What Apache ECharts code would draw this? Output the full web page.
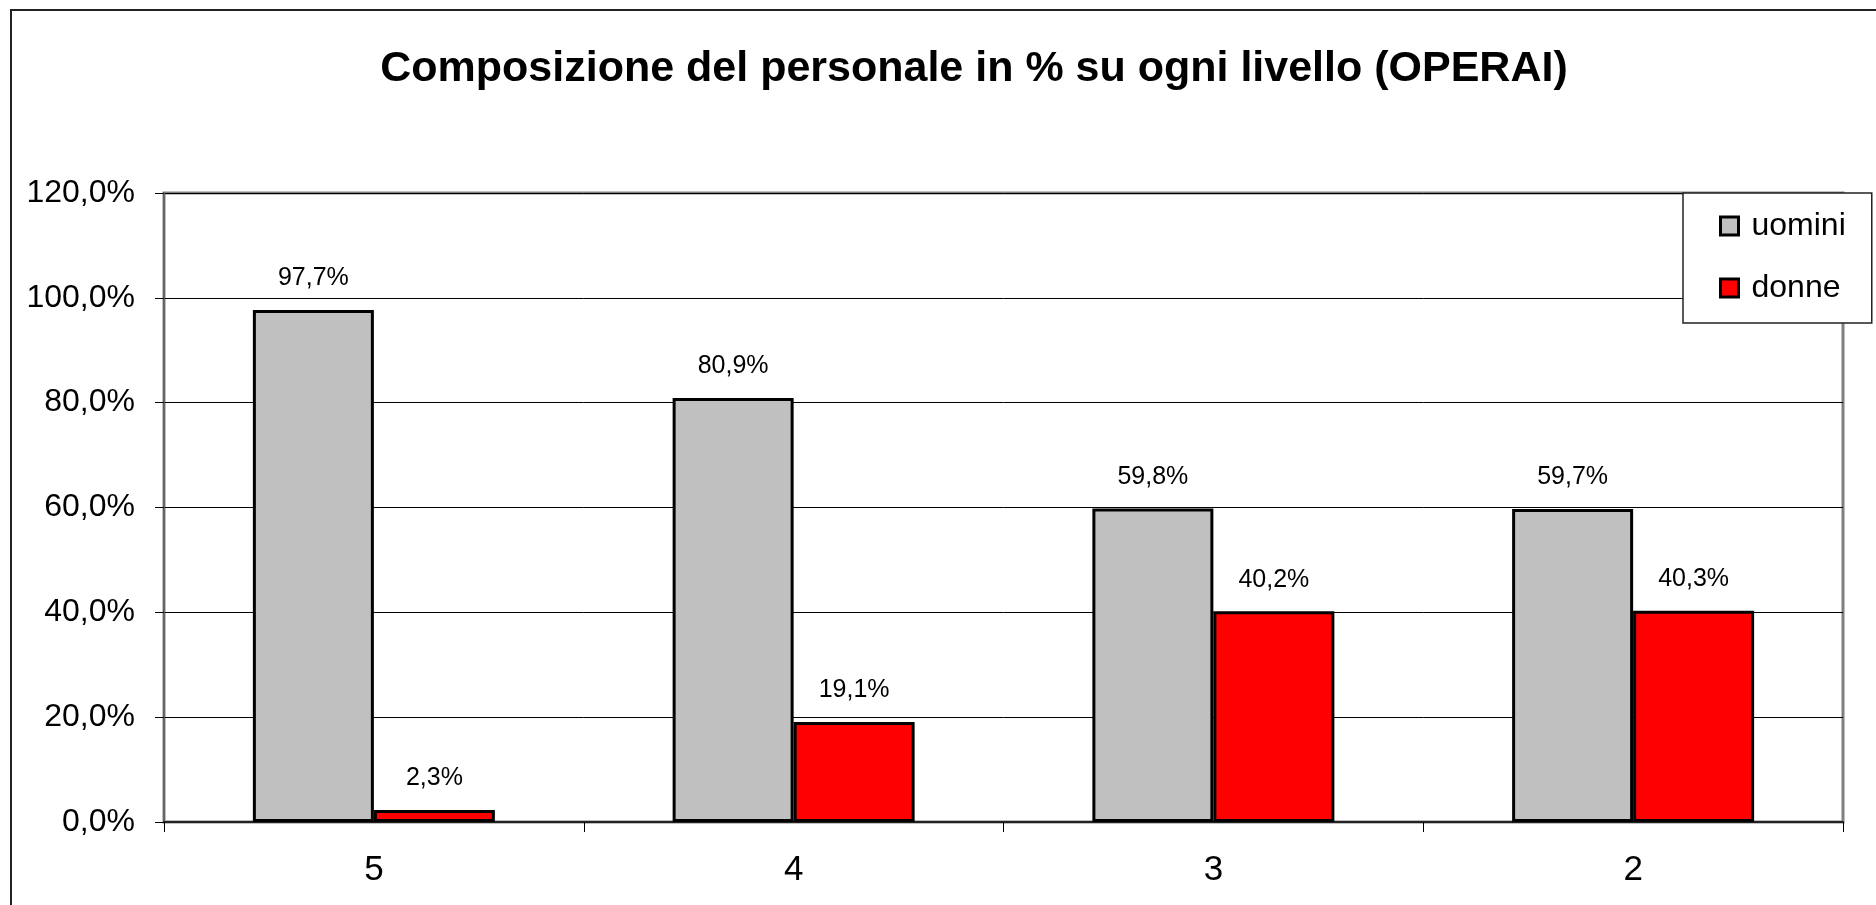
<!DOCTYPE html>
<html>
<head>
<meta charset="utf-8">
<script src="https://cdn.jsdelivr.net/npm/echarts@6/dist/echarts.min.js"></script>
<style>
  html, body { margin: 0; padding: 0; background: #fff; }
  #chart { width: 1876px; height: 905px; }
</style>
</head>
<body>
<div id="chart"></div>
<script>
// livelli
const categories = ["5", "4", "3", "2"];
// percentuali per livello
const uomini = [97.7, 80.9, 59.8, 59.7];
const donne = [2.3, 19.1, 40.2, 40.3];
const yTicks = { min: 0, max: 120, interval: 20 };

const FONT = "'Liberation Sans', Arial, sans-serif";
const pct = (v) => v.toFixed(1).replace(".", ",") + "%";

const chart = echarts.init(document.getElementById("chart"));

const labelStyle = {
  show: true,
  position: "top",
  distance: 19,
  fontFamily: FONT,
  fontSize: 25,
  color: "#000",
  formatter: (p) => pct(p.value),
};

const options = {
  backgroundColor: "#fff",
  animation: false,
  title: {
    text: "Composizione del personale in % su ogni livello (OPERAI)",
    left: 969,
    top: 43,
    textAlign: "center",
    textStyle: { fontFamily: FONT, fontSize: 43, fontWeight: "bold", color: "#000" },
  },
  // cornice esterna
  graphic: [
    {
      type: "rect",
      shape: { x: 11, y: 10, width: 2000, height: 2000 },
      style: { fill: null, stroke: "#222", lineWidth: 2 },
      silent: true,
      z: -1,
    },
  ],
  legend: {
    orient: "vertical",
    left: 1683,
    top: 193,
    padding: [17, 26, 19, 36],
    itemGap: 30,
    itemWidth: 18,
    itemHeight: 18,
    icon: "rect",
    backgroundColor: "#fff",
    borderColor: "#222",
    borderWidth: 1.5,
    textStyle: { fontFamily: FONT, fontSize: 32, lineHeight: 32, color: "#000", padding: [0, 0, 0, 8] },
    data: [
      { name: "uomini", itemStyle: { color: "#C0C0C0", borderColor: "#000", borderWidth: 3 } },
      { name: "donne", itemStyle: { color: "#FF0000", borderColor: "#000", borderWidth: 3 } },
    ],
    z: 10,
  },
  grid: {
    left: 164,
    right: 33,
    top: 193,
    bottom: 83,
    show: true,
    borderColor: "#808080",
    borderWidth: 3,
  },
  xAxis: {
    type: "category",
    data: categories,
    axisLine: { lineStyle: { color: "#222", width: 2 } },
    axisTick: { show: true, length: 10, lineStyle: { color: "#000", width: 1 } },
    axisLabel: { fontFamily: FONT, fontSize: 35, color: "#000", margin: 31 },
  },
  yAxis: {
    type: "value",
    min: yTicks.min,
    max: yTicks.max,
    interval: yTicks.interval,
    axisLine: { show: true, lineStyle: { color: "#666", width: 2 } },
    axisTick: { show: true, length: 9, lineStyle: { color: "#000", width: 1 } },
    axisLabel: { fontFamily: FONT, fontSize: 32, color: "#000", margin: 29, formatter: (v) => pct(v) },
    splitLine: { show: true, lineStyle: { color: "#000", width: 1 } },
  },
  series: [
    {
      name: "uomini",
      type: "bar",
      data: uomini,
      barWidth: 121,
      barGap: "0%",
      itemStyle: { color: "#C0C0C0", borderColor: "#000", borderWidth: 3 },
      label: labelStyle,
    },
    {
      name: "donne",
      type: "bar",
      data: donne,
      barWidth: 121,
      barGap: "0%",
      itemStyle: { color: "#FF0000", borderColor: "#000", borderWidth: 3 },
      label: labelStyle,
    },
  ],
};

chart.setOption(options);
</script>
</body>
</html>
